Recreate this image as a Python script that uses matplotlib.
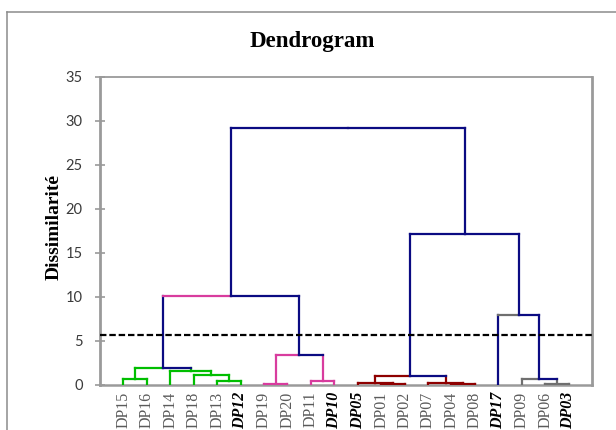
import matplotlib
matplotlib.use("Agg")
import matplotlib.pyplot as plt
from matplotlib.lines import Line2D

# Leaf order along the x axis
leaves = ["DP15", "DP16", "DP14", "DP18", "DP13", "DP12", "DP19", "DP20",
          "DP11", "DP10", "DP05", "DP01", "DP02", "DP07", "DP04", "DP08",
          "DP17", "DP09", "DP06", "DP03"]
emphasized = ["DP12", "DP10", "DP05", "DP17", "DP03"]

# Agglomeration steps: children (leaf label or earlier step index) and fusion level
merge_left = ["DP15", "DP13", "DP18", "DP14", 0, "DP19", "DP11", 5, 4,
              "DP01", "DP05", "DP04", "DP07", 10, "DP06", "DP09", "DP17", 13, 8]
merge_right = ["DP16", "DP12", 1, 2, 3, "DP20", "DP10", 6, 7,
               "DP02", 9, "DP08", 11, 12, "DP03", 14, 15, 16, 17]
merge_height = [0.63, 0.40, 1.05, 1.50, 1.92, 0.10, 0.42, 3.40, 10.12,
                0.08, 0.20, 0.06, 0.20, 0.95, 0.10, 0.57, 7.94, 17.08, 29.12]
cut_level = 5.6

y_ticks = [0, 5, 10, 15, 20, 25, 30, 35]

NAVY = "#0B0B82"
GREEN = "#00BE00"
PINK = "#D83C9E"
RED = "#8E0000"
GREY = "#6F6F6F"

# colours per step: (left vertical, left half of bar, right half of bar, right vertical)
step_colors = [
    (GREEN,) * 4, (GREEN,) * 4, (GREEN,) * 4, (GREEN,) * 4,
    (GREEN, GREEN, NAVY, GREEN),
    (PINK,) * 4, (PINK,) * 4,
    (PINK, PINK, NAVY, PINK),
    (NAVY, PINK, NAVY, NAVY),
    (RED,) * 4, (RED,) * 4, (RED,) * 4, (RED,) * 4,
    (RED, RED, NAVY, RED),
    (GREY,) * 4,
    (GREY, GREY, NAVY, GREY),
    (NAVY, GREY, NAVY, NAVY),
    (NAVY,) * 4, (NAVY,) * 4,
]

fig = plt.figure(figsize=(6.16, 4.30), dpi=100)
ax = fig.add_axes([100 / 616, 45.5 / 430, 492 / 616, 307.8 / 430])

leaf_x = {name: i + 1 for i, name in enumerate(leaves)}
node_x = []


def position(child):
    if isinstance(child, str):
        return leaf_x[child], 0.0
    return node_x[child], merge_height[child]


lw = 1.6
for k, (a, b, h) in enumerate(zip(merge_left, merge_right, merge_height)):
    xa, ha = position(a)
    xb, hb = position(b)
    xm = (xa + xb) / 2
    node_x.append(xm)
    cl, chl, chr_, cr = step_colors[k]
    kw = dict(lw=lw, solid_capstyle="projecting", zorder=3)
    ax.plot([xa, xa], [ha, h], color=cl, **kw)
    ax.plot([xb, xb], [hb, h], color=cr, **kw)
    ax.plot([xa, xm], [h, h], color=chl, **kw)
    ax.plot([xm, xb], [h, h], color=chr_, **kw)

ax.axhline(cut_level, color="black", lw=1.6, linestyle=(0, (2.9, 1.3)), zorder=4)

ax.set_xlim(0, 21)
ax.set_ylim(0, 35)
ax.set_yticks(y_ticks)
ax.set_yticklabels([str(t) for t in y_ticks], fontfamily="Lato", fontsize=10.5,
                   color="#3A3A3A")
ax.tick_params(axis="y", direction="inout", length=7, width=1.2, color="#9A9A9A", pad=9)

ax.set_xticks(range(1, len(leaves) + 1))
ax.set_xticklabels(leaves, rotation=90, fontfamily="Liberation Serif", fontsize=11.5,
                   color="#5A5A5A", va="top")
ax.tick_params(axis="x", length=0, pad=5)
for lbl in ax.get_xticklabels():
    if lbl.get_text() in emphasized:
        lbl.set_fontweight("bold")
        lbl.set_fontstyle("italic")
        lbl.set_color("black")

for side, w in (("left", 2.0), ("bottom", 1.8), ("top", 1.3), ("right", 2.0)):
    ax.spines[side].set_color("#9A9A9A")
    ax.spines[side].set_linewidth(w)

ax.set_ylabel("Dissimilarité", fontfamily="Liberation Serif", fontweight="bold",
              fontsize=14)
ax.yaxis.set_label_coords(63 / 616, 1 - 227 / 430, transform=fig.transFigure)

fig.text(312 / 616, 1 - 42 / 430, "Dendrogram", ha="center", va="center",
         fontfamily="Liberation Serif", fontweight="bold", fontsize=16.5)

# outer chart frame
fig.add_artist(Line2D([7 / 616, 7 / 616], [0, 1 - 12 / 430], transform=fig.transFigure,
                      color="#8C8C8C", lw=1.1))
fig.add_artist(Line2D([7 / 616, 1], [1 - 12 / 430, 1 - 12 / 430], transform=fig.transFigure,
                      color="#8C8C8C", lw=1.1))

fig.savefig("out.png", dpi=100)
